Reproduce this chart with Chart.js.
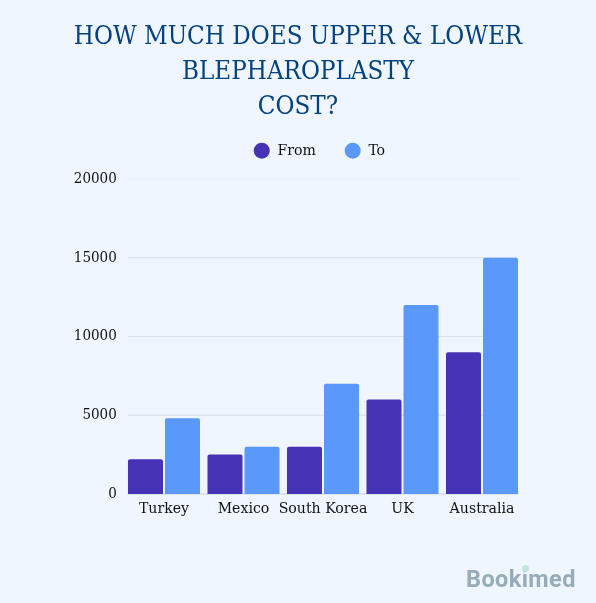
<!DOCTYPE html>
<html>
<head>
<meta charset="utf-8">
<script src="https://cdn.jsdelivr.net/npm/chart.js@4"></script>
<style>
  html, body { margin: 0; padding: 0; background: #eff6ff; }
  #wrap { position: relative; width: 596px; height: 603px; overflow: hidden; }
  #logo { position: absolute; left: 466px; top: 565px; font: 700 23.5px Roboto, sans-serif; letter-spacing: 0.4px; line-height: 28px; color: #97acb8; }
  #heart { position: absolute; left: 522px; top: 564.5px; width: 7px; height: 7px; border-radius: 50%; background: #bfe6dc; }
</style>
</head>
<body>
<div id="wrap">
  <canvas id="myChart" width="596" height="603"></canvas>
  <div id="logo">Bookimed</div>
  <div id="heart"></div>
</div>
<script>
const categories = ['Turkey', 'Mexico', 'South Korea', 'UK', 'Australia'];
const fromValues = [2200, 2500, 3000, 6000, 9000];
const toValues = [4800, 3000, 7000, 12000, 15000];
const titleLines = ['HOW MUCH DOES UPPER & LOWER', 'BLEPHAROPLASTY', 'COST?'];

const slabFont = '"DejaVu Serif Condensed", "DejaVu Serif", serif';

// grid lines stop at the outer bar edges, not at the chart area
const shortGrid = {
    id: 'shortGrid',
    beforeDatasetsDraw(chart) {
        const ctx = chart.ctx;
        const yScale = chart.scales.y;
        yScale.ticks.forEach(tick => {
            const y = yScale.getPixelForValue(tick.value);
            ctx.save();
            ctx.strokeStyle = tick.value == 20000 ? '#e8eef8' : (tick.value == 0 ? '#c9d3e2' : '#d6dfee');
            ctx.lineWidth = 1;
            ctx.beginPath();
            ctx.moveTo(128, y);
            ctx.lineTo(518, y);
            ctx.stroke();
            ctx.restore();
        });
    }
};

// legend box height fixed so the wide label padding does not push the plot down,
// and nudged left a little to sit where the reference has it
const legendTweak = {
    id: 'legendTweak',
    beforeLayout(chart) {
        const legend = chart.legend;
        if (legend.patched) return;
        const fit = legend.fit;
        const draw = legend.draw;
        legend.fit = function() {
            fit.call(this);
            this.height = 65;
        };
        legend.draw = function() {
            this.ctx.save();
            this.ctx.translate(-3.5, 0);
            draw.call(this);
            this.ctx.restore();
        };
        legend.patched = true;
    }
};

new Chart(document.getElementById('myChart').getContext('2d'), {
    type: 'bar',
    data: {
        labels: categories,
        datasets: [
            { label: 'From', data: fromValues, backgroundColor: '#4532b5', borderRadius: { topLeft: 2, topRight: 2 }, categoryPercentage: 0.931, barPercentage: 0.946 },
            { label: 'To', data: toValues, backgroundColor: '#5a98fb', borderRadius: { topLeft: 2, topRight: 2 }, categoryPercentage: 0.931, barPercentage: 0.946 }
        ]
    },
    options: {
        responsive: false,
        animation: false,
        layout: { padding: { left: 0, right: 0, top: 20, bottom: 0 } },
        plugins: {
            title: {
                display: true,
                text: titleLines,
                color: '#03417f',
                font: { family: slabFont, size: 25.7, weight: 'normal', lineHeight: 1.36 },
                padding: { top: 0, bottom: -11 }
            },
            legend: {
                fullSize: false,
                labels: {
                    usePointStyle: true,
                    pointStyle: 'circle',
                    boxHeight: 11.3,
                    color: '#111111',
                    font: { family: slabFont, size: 15.7 },
                    padding: 29
                }
            },
            tooltip: { enabled: false }
        },
        scales: {
            x: {
                grid: { display: false, drawTicks: false },
                border: { display: false },
                ticks: { color: '#111111', font: { family: slabFont, size: 15.7 }, padding: 6, maxRotation: 0, autoSkip: false },
                afterFit(scale) { scale.height = 109; }
            },
            y: {
                min: 0,
                max: 20000,
                grid: { display: false, drawTicks: false },
                border: { display: false },
                ticks: { stepSize: 5000, color: '#111111', font: { family: slabFont, size: 15 }, padding: 7.5, callback: value => String(value) },
                afterFit(scale) { scale.width = 124.25; }
            },
            // empty right axis: keeps the plot off the right edge while the title stays centred on the page
            yRight: {
                position: 'right',
                grid: { display: false, drawTicks: false },
                border: { display: false },
                ticks: { display: false },
                afterFit(scale) { scale.width = 74.25; }
            }
        }
    },
    plugins: [shortGrid, legendTweak]
});
</script>
</body>
</html>
